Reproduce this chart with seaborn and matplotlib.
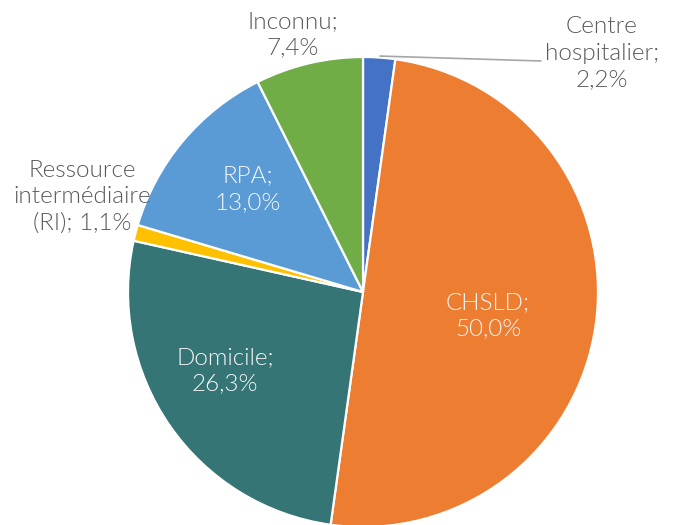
import matplotlib
matplotlib.use("Agg")
import matplotlib.pyplot as plt
import seaborn as sns

# Répartition par milieu de vie
categories = ["Centre\nhospitalier", "CHSLD", "Domicile",
              "Ressource\nintermédiaire\n(RI)", "RPA", "Inconnu"]
valeurs = [2.2, 50.0, 26.3, 1.1, 13.0, 7.4]
couleurs = ["#4472C4", "#ED7D31", "#367575", "#FFC000", "#5B9BD5", "#70AD47"]

sns.set_theme(style="white")
plt.rcParams['font.family'] = ['Lato', 'DejaVu Sans']

fig = plt.figure(figsize=(6.75, 5.25), dpi=100)
# centre du camembert ~ (363, 292) px, rayon ~235 px
ax = fig.add_axes([(363 - 235) / 675, (525 - 292 - 235) / 525, 470 / 675, 470 / 525])
ax.pie(valeurs, colors=couleurs, startangle=90, counterclock=False, radius=1,
       wedgeprops=dict(edgecolor="white", linewidth=1.6))
ax.set_xlim(-1, 1)
ax.set_ylim(-1, 1)
ax.set_aspect("equal")
ax.axis("off")


def fmt(v):
    return f"{v:.1f}".replace(".", ",") + "%"


# positions des étiquettes (coordonnées du camembert)
positions = {
    "Centre\nhospitalier": (1.017, 1.017, "#595959"),
    "CHSLD": (0.532, -0.102, "#F7F7F7"),
    "Domicile": (-0.587, -0.336, "#F7F7F7"),
    "Ressource\nintermédiaire\n(RI)": (-1.196, 0.404, "#595959"),
    "RPA": (-0.489, 0.438, "#F7F7F7"),
    "Inconnu": (-0.298, 1.094, "#595959"),
}

for cat, v in zip(categories, valeurs):
    x, y, c = positions[cat]
    if cat.startswith("Ressource"):
        txt = cat + "; " + fmt(v)
    else:
        txt = cat + ";\n" + fmt(v)
    ax.text(x, y, txt, ha="center", va="center", color=c, fontsize=17.5,
            fontweight=300, linespacing=1.3, clip_on=False)

# ligne de rappel pour Centre hospitalier
ax.plot([0.072, 0.757], [1.004, 0.983], color="#A6A6A6", lw=1.2, clip_on=False)

fig.savefig("out.png", dpi=100)
